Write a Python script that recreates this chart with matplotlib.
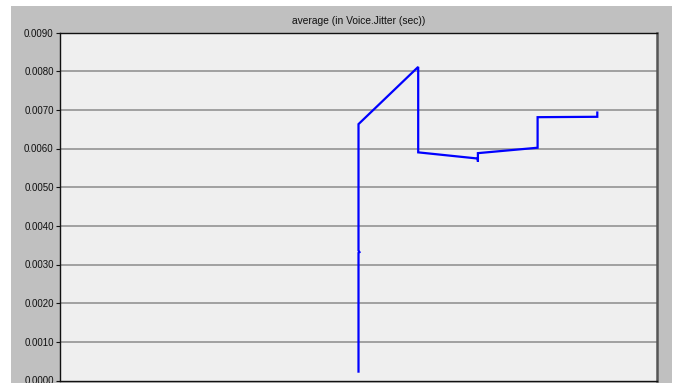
import matplotlib
matplotlib.use("Agg")
import matplotlib.pyplot as plt
from matplotlib.patches import Rectangle

# Voice jitter average over simulation time (seconds)
time_s = [300, 300, 301, 300, 300, 360, 360, 420, 420, 420, 480, 480, 540, 540]
jitter_s = [0.00023, 0.00330, 0.00332, 0.00336, 0.00663, 0.00811, 0.00590,
            0.00574, 0.00566, 0.00588, 0.00602, 0.00681, 0.00682, 0.00693]
y_ticks = [0.0000, 0.0010, 0.0020, 0.0030, 0.0040, 0.0050,
           0.0060, 0.0070, 0.0080, 0.0090]
title = "average (in Voice.Jitter (sec))"

W, H = 675, 383
fig = plt.figure(figsize=(W / 100, H / 100), dpi=100, facecolor="white")
plt.rcParams["font.family"] = ["Liberation Sans", "DejaVu Sans"]

# grey panel behind the plot
fig.patches.append(Rectangle((11 / W, 0), (672 - 11) / W, (H - 6) / H,
                             transform=fig.transFigure, facecolor="#c0c0c0",
                             edgecolor="none", zorder=-10))

left, right, top, bottom = 60, 657, 32.5, 380.5
ax = fig.add_axes([left / W, (H - bottom) / H, (right - left) / W, (bottom - top) / H])
ax.set_zorder(5)
ax.set_facecolor("#efefef")

ax.set_xlim(0, 600)
ax.set_ylim(0, 0.009)
ax.set_yticks(y_ticks)
ax.set_yticklabels([f"{v:.4f}" for v in y_ticks], fontsize=7, color="#111111")
ax.set_xticks([])
ax.tick_params(axis="y", length=3, width=0.8, pad=1.5, colors="#111111")

for v in y_ticks[1:-1]:
    ax.axhline(v, color="#9a9a9a", lw=1.3, zorder=1)

ax.plot(time_s, jitter_s, color="#0000ff", lw=1.6, zorder=3, solid_joinstyle="miter")

for side in ("left", "top", "bottom"):
    ax.spines[side].set_color("#111111")
    ax.spines[side].set_linewidth(1.0)
ax.spines["right"].set_color("#555555")
ax.spines["right"].set_linewidth(1.8)

fig.text((left + right) / 2 / W, 1 - 21 / H, title, ha="center", va="center",
         fontsize=7.4, color="#111111", zorder=6)

fig.savefig("out.png", dpi=100, facecolor="white")
